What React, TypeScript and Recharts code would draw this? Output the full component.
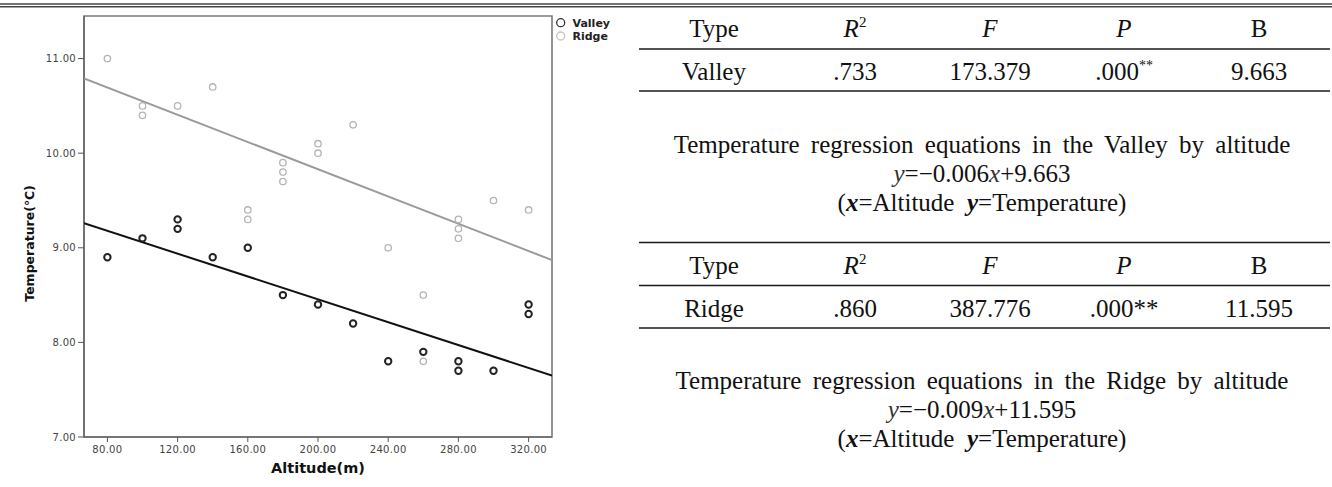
import React from "react";
import { ScatterChart, Scatter, XAxis, YAxis, Legend, ReferenceArea } from "recharts";

// ---------- data ----------
const altitudeTicks = [80, 120, 160, 200, 240, 280, 320];
const temperatureTicks = [7, 8, 9, 10, 11];
const altitudeDomain: [number, number] = [66.67, 333.33];
const temperatureDomain: [number, number] = [7, 11.45];

const valleyAltitude = [80, 100, 120, 120, 140, 160, 180, 200, 220, 240, 260, 280, 280, 300, 320, 320];
const valleyTemperature = [8.9, 9.1, 9.3, 9.2, 8.9, 9.0, 8.5, 8.4, 8.2, 7.8, 7.9, 7.8, 7.7, 7.7, 8.4, 8.3];

const ridgeAltitude = [80, 100, 100, 120, 140, 160, 160, 180, 180, 180, 200, 200, 220, 240, 260, 260, 280, 280, 280, 300, 320];
const ridgeTemperature = [11.0, 10.5, 10.4, 10.5, 10.7, 9.4, 9.3, 9.9, 9.8, 9.7, 10.1, 10.0, 10.3, 9.0, 8.5, 7.8, 9.3, 9.2, 9.1, 9.5, 9.4];

const fitAltitude = [66.67, 333.33];
const valleyFitTemperature = [9.26, 7.65];
const ridgeFitTemperature = [10.79, 8.87];

const seriesNames = ["Valley", "Ridge"];
const seriesColors = ["#222222", "#b4b4b4"];

const headerCells = ["Type", "R", "F", "P", "B"];
const valleyRow = ["Valley", ".733", "173.379", ".000", "9.663"];
const ridgeRow = ["Ridge", ".860", "387.776", ".000**", "11.595"];
const equationTitles = [
  "Temperature regression equations in the Valley by altitude",
  "Temperature regression equations in the Ridge by altitude",
];
const equationSlopes = ["0.006", "0.009"];
const equationIntercepts = ["9.663", "11.595"];

const zip = (xs: number[], ys: number[]) => xs.map((x, i) => ({ x, y: ys[i] }));
const valleyData = zip(valleyAltitude, valleyTemperature);
const ridgeData = zip(ridgeAltitude, ridgeTemperature);
const valleyFit = zip(fitAltitude, valleyFitTemperature);
const ridgeFit = zip(fitAltitude, ridgeFitTemperature);

// ---------- chart pieces ----------
const makeCircle = (stroke: string, sw: number) => (props: any) =>
  props.cx == null ? <g /> : (
    <circle cx={props.cx} cy={props.cy} r={3.2} fill="none" stroke={stroke} strokeWidth={sw} />
  );
const noShape = () => <g />;

const XTitle = (props: any) => {
  const vb = props.viewBox || { x: 0, y: 0, width: 0, height: 0 };
  return (
    <text x={vb.x + vb.width / 2} y={vb.y + 36} textAnchor="middle" fontFamily="DejaVu Sans" fontWeight="bold" fontSize={14.5} fill="#111">
      Altitude(m)
    </text>
  );
};
const YTitle = (props: any) => {
  const vb = props.viewBox || { x: 0, y: 0, width: 0, height: 0 };
  const cx = vb.x + 29;
  const cy = vb.y + vb.height / 2 + 17;
  return (
    <text x={cx} y={cy} transform={`rotate(-90, ${cx}, ${cy})`} textAnchor="middle" dominantBaseline="central" fontFamily="DejaVu Sans" fontWeight="bold" fontSize={12.5} fill="#111">
      Temperature(℃)
    </text>
  );
};

const LegendBox = () => (
  <svg width={80} height={34} style={{ overflow: "visible" }}>
    {seriesNames.map((n, i) => (
      <g key={n}>
        <circle cx={10.7} cy={8.7 + i * 13.3} r={4} fill="none" stroke={i === 0 ? "#333" : "#c4c4c4"} strokeWidth={1.3} />
        <text x={22.5} y={13 + i * 13.3} fontFamily="DejaVu Sans" fontWeight="bold" fontSize={11} fill="#222">{n}</text>
      </g>
    ))}
  </svg>
);

const tickStyle = { fill: "#444", fontSize: 10, fontFamily: "DejaVu Sans", letterSpacing: 0.3 };

// ---------- right panel ----------
const COLS = [714, 855, 990, 1124, 1259];
const TABLE_LEFT = 639;
const TABLE_RIGHT = 1330;
const EQ_X = 982;

const HeaderRow = ({ y }: { y: number }) => (
  <g>
    <text x={COLS[0]} y={y}>{headerCells[0]}</text>
    <text x={COLS[1]} y={y}>
      <tspan fontStyle="italic">{headerCells[1]}</tspan>
      <tspan fontSize={15} dy={-10}>2</tspan>
    </text>
    <text x={COLS[2]} y={y} fontStyle="italic">{headerCells[2]}</text>
    <text x={COLS[3]} y={y} fontStyle="italic">{headerCells[3]}</text>
    <text x={COLS[4]} y={y}>{headerCells[4]}</text>
  </g>
);

const HLine = ({ y, w = 1.5 }: { y: number; w?: number }) => (
  <line x1={TABLE_LEFT} x2={TABLE_RIGHT} y1={y} y2={y} stroke="#1a1a1a" strokeWidth={w} />
);

const Equation = ({ y, idx }: { y: number; idx: number }) => (
  <g>
    <text x={EQ_X} y={y} style={{ wordSpacing: "5px" }}>{equationTitles[idx]}</text>
    <text x={EQ_X} y={y + 29}>
      <tspan fontStyle="italic" fill="#333">y</tspan>=−{equationSlopes[idx]}
      <tspan fontStyle="italic" fill="#333">x</tspan>+{equationIntercepts[idx]}
    </text>
    <text x={EQ_X} y={y + 58}>
      (<tspan fontStyle="italic" fontWeight="bold">x</tspan>=Altitude{"\u00a0 "}
      <tspan fontStyle="italic" fontWeight="bold">y</tspan>=Temperature)
    </text>
  </g>
);

const RightPanel = () => (
  <svg width={1332} height={487} style={{ position: "absolute", left: 0, top: 0, pointerEvents: "none" }}>
    <line x1={0} x2={1332} y1={4} y2={4} stroke="#444" strokeWidth={1.4} />
    <line x1={0} x2={1332} y1={6.8} y2={6.8} stroke="#444" strokeWidth={1.4} />
    <g fontFamily="Liberation Serif" fontSize={25} fill="#111" textAnchor="middle">
      <HeaderRow y={37} />
      <HLine y={49} />
      {valleyRow.map((v, i) => (
        <text key={i} x={COLS[i]} y={79.5}>
          {v}
          {i === 3 ? <tspan fontSize={14} dy={-10}>**</tspan> : null}
        </text>
      ))}
      <HLine y={91} />
      <Equation y={153} idx={0} />
      <HLine y={242.5} />
      <HeaderRow y={274} />
      <HLine y={285.5} />
      {ridgeRow.map((v, i) => (
        <text key={i} x={COLS[i]} y={316.5}>{v}</text>
      ))}
      <HLine y={328} />
      <Equation y={389} idx={1} />
    </g>
  </svg>
);

export default function App() {
  return (
    <div style={{ position: "absolute", left: 0, top: 0, width: 1332, height: 487, background: "#fff" }}>
      <div style={{ position: "absolute", left: 0, top: 0 }}>
        <ScatterChart width={620} height={487} margin={{ top: 16, right: 68, bottom: 0, left: 0 }}>
          <ReferenceArea x1={altitudeDomain[0]} x2={altitudeDomain[1]} y1={temperatureDomain[0]} y2={temperatureDomain[1]} fill="none" stroke="#7a7a7a" strokeWidth={1.6} ifOverflow="visible" />
          <XAxis
            type="number"
            dataKey="x"
            domain={altitudeDomain}
            allowDataOverflow
            ticks={altitudeTicks}
            tickFormatter={(v: number) => v.toFixed(2)}
            height={50}
            tickSize={5}
            tickMargin={4}
            axisLine={{ stroke: "#6a6a6a", strokeWidth: 1.6 }}
            tickLine={{ stroke: "#555" }}
            tick={tickStyle}
            label={<XTitle />}
          />
          <YAxis
            type="number"
            dataKey="y"
            domain={temperatureDomain}
            allowDataOverflow
            ticks={temperatureTicks}
            tickFormatter={(v: number) => v.toFixed(2)}
            width={84}
            tickSize={6}
            tickMargin={2}
            axisLine={{ stroke: "#6a6a6a", strokeWidth: 1.6 }}
            tickLine={{ stroke: "#555" }}
            tick={tickStyle}
            label={<YTitle />}
          />
          <Legend layout="vertical" align="center" verticalAlign="middle" wrapperStyle={{ left: 550, top: 14, width: 80, height: 34 }} content={<LegendBox />} />
          <Scatter name="Ridge fit" data={ridgeFit} line={{ stroke: "#9a9a9a", strokeWidth: 2 }} shape={noShape} legendType="none" isAnimationActive={false} />
          <Scatter name="Valley fit" data={valleyFit} line={{ stroke: "#111", strokeWidth: 2 }} shape={noShape} legendType="none" isAnimationActive={false} />
          <Scatter name={seriesNames[1]} data={ridgeData} shape={makeCircle(seriesColors[1], 1.3)} isAnimationActive={false} />
          <Scatter name={seriesNames[0]} data={valleyData} shape={makeCircle(seriesColors[0], 2)} isAnimationActive={false} />
        </ScatterChart>
      </div>
      <RightPanel />
    </div>
  );
}
